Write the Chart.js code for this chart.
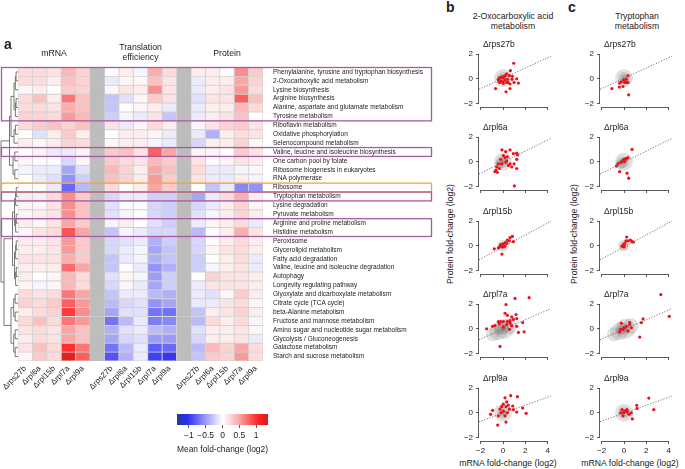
<!DOCTYPE html>
<html>
<head>
<meta charset="utf-8">
<script src="https://cdn.jsdelivr.net/npm/chart.js@4.4.1/dist/chart.umd.min.js"></script>
<style>
  body { margin: 0; background: #fff; width: 685px; height: 469px; position: relative; overflow: hidden;
         font-family: "Liberation Sans", Arial, sans-serif; color: #222; }
  canvas { position: absolute; }
  .t { position: absolute; white-space: nowrap; font-size: 8.7px; line-height: 10px; text-align: center; color: #222; }
  .lt { font-weight: bold; font-size: 14px; line-height: 16px; text-align: left; }
  .vt { transform: rotate(-90deg); transform-origin: 50% 50%; font-size: 8.7px; }
</style>
</head>
<body>
<canvas id="heat" width="440" height="400" style="left:0;top:0"></canvas>
<canvas id="cbar" width="140" height="69" style="left:150px;top:400px"></canvas>

<div class="t lt" style="left:4px;top:36px">a</div>
<div class="t lt" style="left:446px;top:-1px">b</div>
<div class="t lt" style="left:568px;top:-1px">c</div>
<div class="t" style="left:463px;top:11px;width:100px">2-Oxocarboxylic acid<br>metabolism</div>
<div class="t" style="left:587px;top:11px;width:100px">Tryptophan<br>metabolism</div>
<div class="t vt" style="left:390px;top:229px;width:120px">Protein fold-change (log2)</div>
<div class="t vt" style="left:514px;top:229px;width:120px">Protein fold-change (log2)</div>
<div class="t" style="left:448px;top:458px;width:120px">mRNA fold-change (log2)</div>
<div class="t" style="left:570px;top:458px;width:120px">mRNA fold-change (log2)</div>

<script>
// ---- data ----
const pathways = [
  'Phenylalanine, tyrosine and tryptophan biosynthesis',
  '2-Oxocarboxylic acid metabolism',
  'Lysine biosynthesis',
  'Arginine biosynthesis',
  'Alanine, aspartate and glutamate metabolism',
  'Tyrosine metabolism',
  'Riboflavin metabolism',
  'Oxidative phosphorylation',
  'Selenocompound metabolism',
  'Valine, leucine and isoleucine biosynthesis',
  'One carbon pool by folate',
  'Ribosome biogenesis in eukaryotes',
  'RNA polymerase',
  'Ribosome',
  'Tryptophan metabolism',
  'Lysine degradation',
  'Pyruvate metabolism',
  'Arginine and proline metabolism',
  'Histidine metabolism',
  'Peroxisome',
  'Glycerolipid metabolism',
  'Fatty acid degradation',
  'Valine, leucine and isoleucine degradation',
  'Autophagy',
  'Longevity regulating pathway',
  'Glyoxylate and dicarboxylate metabolism',
  'Citrate cycle (TCA cycle)',
  'beta-Alanine metabolism',
  'Fructose and mannose metabolism',
  'Amino sugar and nucleotide sugar metabolism',
  'Glycolysis / Gluconeogenesis',
  'Galactose metabolism',
  'Starch and sucrose metabolism'
];
const strains = ['\u0394rps27b', '\u0394rpl6a', '\u0394rpl15b', '\u0394rpl7a', '\u0394rpl9a'];
const groupTitles = [['mRNA'], ['Translation', 'efficiency'], ['Protein']];

// mean fold-change (log2), one row per pathway, one value per strain
const mrnaFC = [
  [0.2, 0.2, 0.15, 0.4, 0.25], [0.2, 0.2, 0.1, 0.35, 0.25], [0.05, 0.1, 0.0, 0.3, 0.25],
  [0.2, 0.35, 0.1, 0.7, 0.35], [0.2, 0.2, 0.15, 0.45, 0.35], [0.25, 0.25, 0.2, 0.55, 0.4],
  [0.2, 0.3, 0.35, 0.25, 0.35], [0.0, -0.15, 0.1, 0.3, 0.1], [0.1, 0.05, 0.1, 0.25, 0.2],
  [0.0, 0.05, -0.1, -0.1, 0.05], [0.05, 0.0, 0.0, -0.2, 0.05], [-0.05, -0.1, -0.1, -0.45, -0.15],
  [0.0, -0.1, -0.15, -0.55, -0.25], [0.0, 0.0, -0.1, -0.75, -0.35], [0.1, 0.1, 0.2, 0.6, 0.3],
  [0.05, 0.05, 0.15, 0.6, 0.35], [0.05, 0.1, 0.15, 0.6, 0.35], [0.1, 0.05, 0.15, 0.5, 0.3],
  [0.05, 0.15, 0.2, 0.85, 0.5], [0.1, 0.1, 0.15, 0.55, 0.3], [0.1, 0.1, 0.15, 0.55, 0.3],
  [0.15, 0.15, 0.15, 0.45, 0.3], [0.1, 0.1, 0.1, 0.75, 0.5], [0.1, 0.0, 0.05, 0.4, 0.2],
  [0.05, -0.05, 0.05, 0.4, 0.2], [0.2, 0.15, 0.2, 0.7, 0.5], [0.25, 0.2, 0.3, 0.8, 0.55],
  [0.1, 0.2, 0.25, 0.95, 0.6], [0.2, 0.35, 0.2, 0.7, 0.55], [0.15, 0.2, 0.15, 0.5, 0.35],
  [0.1, 0.2, 0.15, 0.5, 0.35], [0.15, 0.35, 0.2, 1.0, 0.7], [0.05, 0.3, 0.2, 1.25, 0.8]
];
const teFC = [
  [0.0, 0.1, -0.05, 0.45, 0.2], [-0.1, 0.05, 0.05, 0.35, 0.15], [0.05, 0.15, 0.1, 0.6, 0.15],
  [-0.3, -0.15, 0.05, 0.3, 0.15], [-0.3, 0.0, 0.05, 0.1, -0.1], [-0.25, -0.05, -0.1, 0.15, -0.3],
  [0.15, -0.1, 0.05, 0.2, 0.1], [0.0, 0.1, 0.1, 0.05, -0.1], [0.05, 0.1, 0.1, -0.05, -0.1],
  [0.3, 0.35, 0.15, 0.8, 0.5], [0.3, 0.2, 0.15, 0.4, 0.3], [0.4, 0.25, 0.1, 0.5, 0.35],
  [0.35, 0.25, 0.1, 0.55, 0.3], [0.2, 0.0, 0.1, 0.5, 0.3], [-0.2, -0.1, -0.1, -0.25, -0.25],
  [-0.15, 0.0, 0.0, -0.2, -0.25], [-0.15, -0.05, 0.0, -0.2, -0.25], [-0.05, 0.1, 0.0, -0.15, -0.25],
  [-0.3, -0.05, -0.1, -0.2, -0.2], [-0.2, -0.15, -0.1, -0.4, -0.25], [-0.2, -0.1, -0.05, -0.45, -0.3],
  [-0.3, -0.1, -0.05, -0.4, -0.3], [-0.3, 0.0, -0.1, -0.55, -0.4], [-0.15, 0.05, -0.05, -0.5, -0.25],
  [-0.2, 0.05, -0.1, -0.45, -0.25], [-0.3, -0.1, -0.1, -0.35, -0.4], [-0.35, -0.2, -0.15, -0.55, -0.45],
  [-0.45, -0.15, -0.15, -0.7, -0.7], [-0.7, -0.35, -0.1, -0.65, -0.6], [-0.4, -0.15, -0.1, -0.35, -0.4],
  [-0.45, -0.2, -0.15, -0.5, -0.5], [-0.7, -0.35, -0.1, -0.8, -0.75], [-0.85, -0.4, -0.1, -0.95, -1.0]
];
const protFC = [
  [0.1, 0.1, 0.0, 0.6, 0.3], [-0.1, 0.1, 0.1, 0.5, 0.25], [-0.1, 0.1, 0.15, 0.55, 0.2],
  [-0.15, 0.15, 0.15, 0.8, 0.35], [-0.1, 0.1, 0.1, 0.4, 0.2], [-0.1, 0.1, 0.15, 0.35, 0.0],
  [0.05, 0.15, 0.25, 0.3, 0.15], [-0.1, -0.4, 0.1, 0.2, 0.15], [-0.2, 0.1, 0.1, 0.25, 0.05],
  [0.05, 0.05, 0.0, 0.3, 0.15], [0.15, 0.0, 0.05, 0.15, 0.1], [0.2, -0.1, -0.1, -0.05, 0.05],
  [0.15, -0.1, -0.1, 0.1, -0.05], [0.0, -0.3, -0.1, -0.6, -0.55], [-0.45, -0.1, 0.2, 0.45, 0.1],
  [-0.2, -0.1, 0.1, 0.25, 0.05], [-0.15, -0.05, 0.1, 0.25, 0.1], [-0.1, 0.05, 0.1, 0.2, -0.1],
  [-0.35, 0.0, 0.1, 0.45, 0.15], [-0.2, 0.0, 0.1, 0.2, 0.1], [-0.2, 0.05, 0.15, 0.2, 0.1],
  [-0.25, 0.0, 0.1, 0.2, -0.1], [-0.25, -0.05, 0.1, 0.15, -0.1], [0.0, 0.25, 0.15, 0.15, 0.1],
  [-0.1, 0.15, 0.15, 0.15, 0.1], [-0.1, -0.15, 0.05, 0.3, 0.1], [-0.1, -0.1, 0.15, 0.2, 0.05],
  [-0.3, 0.1, 0.15, 0.25, 0.1], [-0.35, 0.2, 0.1, 0.2, -0.05], [-0.15, 0.1, 0.1, 0.15, 0.05],
  [-0.2, 0.1, 0.1, 0.15, -0.1], [-0.35, 0.4, 0.25, 0.5, 0.2], [-0.3, 0.3, 0.25, 0.55, 0.2]
];

// highlighted pathways [first row, last row, kind]
const highlights = [[0, 5, 'p'], [9, 9, 'p'], [13, 13, 'o'], [14, 14, 'p'], [17, 18, 'p']];

// colour bar
const cbarRange = [-1.35, 1.35];
const cbarTicks = [-1, -0.5, 0, 0.5, 1];

// scatter panels: [mRNA, protein] log2 fold-change of pathway genes
const oxoPoints = [
  [[0.96,1.26],[0.66,0.66],[0.33,0.4],[0.12,0.2],[-0.12,0.15],[-0.33,0.08],[-0.42,-0.05],[-0.2,-0.18],[0,-0.25],[0.18,-0.1],
   [0.42,-0.05],[0.57,0.25],[0.84,0.2],[1.23,0],[1.38,-0.35],[0.99,-0.3],[0.63,-0.43],[0.27,-1.06],[0.63,-0.8],[-0.66,-0.8],
   [-0.27,-0.3],[0.03,-0.38],[0.45,-0.3],[0.81,-0.05],[-0.03,0.08],[-0.36,-0.25],[0.18,0.25],[0.33,-0.3]],
  [[-0.09,0.96],[0.24,0.83],[0.63,0.96],[0.93,0.66],[1.23,0.7],[1.29,0.55],[1.23,0.2],[0.99,-0.18],[0.78,-0.43],[1.23,-0.55],
   [0.33,0.08],[0.18,0.33],[0.03,0.5],[-0.21,0.2],[-0.42,-0.18],[-0.57,-0.43],[-0.63,-0.68],[-0.51,-0.86],[-0.72,-0.8],[0.48,-0.3],
   [0.63,-0.18],[1.02,-1.97],[0.27,-0.05],[-0.12,-0.18],[0.39,0.4],[-0.33,-0.55]],
  [[0.84,0.76],[0.63,0.66],[0.39,0.45],[0.21,0.25],[0.03,0.15],[-0.12,0.05],[-0.27,-0.05],[-0.42,-0.18],[-0.78,-0.25],[-0.09,-0.68],
   [0.93,0.33],[0.57,0.4],[0.15,-0.05],[0.33,0.2],[-0.03,-0.1],[-0.21,0.1]],
  [[2.34,2.53],[1.08,2.47],[0.27,1.97],[0.18,1.26],[0.39,1.09],[0.78,0.96],[1.17,1.16],[1.23,0.83],[0.93,0.76],[0.63,0.66],
   [0.39,0.58],[0.03,0.58],[-0.21,0.58],[-0.42,0.58],[-0.72,0.25],[-0.93,0.2],[-1.47,0],[0.33,0.33],[0.63,0.45],[1.23,0.2],
   [1.77,0.5],[1.89,-0.25],[1.38,-0.3],[-0.27,-1.44],[0.57,-0.05],[0.03,0.15],[-0.33,0.4],[0.78,0.25]],
  [[0.69,1.39],[0.18,1.21],[1.29,1.31],[0.33,0.88],[0.03,0.7],[0.48,0.63],[0.27,0.5],[-0.12,0.5],[-0.27,0.3],[-0.93,0.2],
   [-1.11,-0.13],[0.87,0.55],[0.93,0.25],[1.23,0.05],[1.77,0.38],[2.07,-0.05],[0.27,-0.76],[-0.48,-1.0],[0.03,0.13],[0.39,0],
   [0.18,-0.25],[-0.18,0],[0.57,0.3],[-0.42,-0.25]]
];
const trpPoints = [
  [[0.36,0.25],[0.21,-0.05],[-0.03,-0.1],[-0.24,-0.25],[-0.39,-0.35],[-0.42,-0.68],[-0.09,-0.63],[0.21,-0.3],[0.36,-0.3],[0.06,-0.3],
   [-1.08,-0.8],[0.42,-1.31]],
  [[0.72,1.01],[0.36,0.33],[0.15,0.25],[0,0.2],[-0.15,0.08],[-0.3,-0.05],[-0.54,-0.18],[-0.69,-0.35],[-0.39,-0.81],[0.27,-0.93],
   [0.42,-1.34],[0.21,0.25],[0.06,0.03]],
  [[0.24,0.71],[0.36,0.4],[0.57,0.45],[0.72,0.33],[0.84,0.3],[0.06,0.2],[0.18,0.4],[0,0],[-0.18,-0.05],[0,-0.1],[-0.09,0.05]],
  [[3.3,2.78],[4.05,1.01],[1.71,0.81],[1.56,0.5],[1.41,-0.68],[0.51,0.5],[0.51,0.33],[0.66,0.08],[0.21,0.2],[0,0.08],
   [-0.24,0.45],[-0.3,-0.05],[-0.39,-0.25],[-0.09,-0.05],[0.36,-0.18]],
  [[2.22,1.19],[2.67,0.25],[1.14,0.61],[1.17,0.35],[0.75,-0.5],[0.27,0.25],[0.06,0.13],[-0.18,0.25],[-0.3,0],[-0.09,-0.25],
   [0.45,-0.13],[0.3,0.05],[-0.03,0],[0.66,0]]
];
// genome-wide density (centre x, centre y, spread) per strain
const clouds = [
  [[0, 0.05, 9], [0, 0.05, 6], [0, 0.05, 3.5], [0.05, 0.1, 2]],
  [[0, 0, 9], [-0.1, -0.05, 6], [-0.3, -0.2, 5], [0, 0, 3.5], [0, 0, 2]],
  [[0, 0, 6], [0, 0, 4], [0, 0, 2.5]],
  [[-0.9, -0.45, 7], [-0.4, -0.2, 9], [0.1, 0, 10], [0.6, 0.2, 8], [0, 0, 6], [-0.3, -0.1, 5], [0, 0, 3]],
  [[0, 0, 9], [0, 0, 6], [0, 0, 3.5], [0, 0, 2]]
];
// regression line: protein fold-change at mRNA = fitX[0] and fitX[1]
const fitX = [-2.15, 4.3];
const fitY = [[-0.86, 1.84], [-1.0, 1.9], [-1.15, 2.0], [-0.89, 1.64], [-0.73, 1.36]];
const xTicks = [-2, 0, 2, 4];
const yTicks = [-2, 0, 2];

// ---- helpers ----
const FONT = '"Liberation Sans", Arial, sans-serif';
Chart.defaults.font.family = FONT;
Chart.defaults.color = '#222';
Chart.defaults.animation = false;
Chart.defaults.plugins.legend.display = false;
Chart.defaults.plugins.tooltip.enabled = false;

const colorStops = [
  [-1.35, '#233c95'], [-1.05, '#2b2bf2'], [-0.5, '#9c9cf7'], [0, '#ffffff'],
  [0.5, '#f9a6a6'], [1.05, '#fd2424'], [1.35, '#d2201f']
];
function rgb(h) { return [1, 3, 5].map(i => parseInt(h.substr(i, 2), 16)); }
function fcColor(v) {
  if (v <= colorStops[0][0]) return colorStops[0][1];
  for (let i = 1; i < colorStops.length; i++) {
    if (v <= colorStops[i][0]) {
      const a = rgb(colorStops[i - 1][1]), b = rgb(colorStops[i][1]);
      const t = (v - colorStops[i - 1][0]) / (colorStops[i][0] - colorStops[i - 1][0]);
      return 'rgb(' + a.map((c, k) => Math.round(c + (b[k] - c) * t)).join(',') + ')';
    }
  }
  return colorStops[colorStops.length - 1][1];
}
const minus = v => (v < 0 ? '\u2212' + Math.abs(v) : '' + v);

// dendrogram (merge heights in px from the heatmap edge)
function chain(a, b, h) {
  if (a === b) return a;
  const m = Math.floor((a + b) / 2);
  return [h, chain(a, m, h * 0.55), chain(m + 1, b, h * 0.55)];
}
const tree = [16, [7.5, [6, chain(0, 5, 3), chain(6, 8, 3)], chain(9, 12, 4)],
                  [13, chain(13, 24, 4.5), chain(25, 32, 6)]];

// ---- 1. HEATMAP ----
const fcGroups = [mrnaFC, teFC, protFC];
const nCols = 17;
const heatSets = [];
for (let c = 0; c < nCols; c++) {
  const g = Math.floor(c / 6), s = c % 6, gap = s === 5;
  heatSets.push({
    data: pathways.map(() => [c, c + 1]),
    backgroundColor: pathways.map((_, r) => gap ? '#bdbdbd' : fcColor(fcGroups[g][r][s])),
    borderColor: gap ? '#bdbdbd' : '#d2d2d2',
    borderWidth: 0.8,
    borderSkipped: false,
    grouped: false,
    barPercentage: 1,
    categoryPercentage: 1
  });
}

const heatDecor = {
  id: 'heatDecor',
  afterDraw(chart) {
    const { ctx, chartArea: a, scales: { x, y } } = chart;
    const half = (a.bottom - a.top) / pathways.length / 2;
    ctx.save();
    // group titles
    ctx.fillStyle = '#222';
    ctx.textAlign = 'center';
    ctx.textBaseline = 'middle';
    ctx.font = '8.7px ' + FONT;
    groupTitles.forEach((lines, g) => {
      const cx = x.getPixelForValue(g * 6 + 2.5);
      if (lines.length === 1) ctx.fillText(lines[0], cx, 53.5);
      else { ctx.fillText(lines[0], cx, 47.5); ctx.fillText(lines[1], cx, 58); }
    });
    // dendrogram
    ctx.strokeStyle = '#555';
    ctx.lineWidth = 0.8;
    const draw = node => {
      if (typeof node === 'number') return { y: y.getPixelForValue(node), x: a.left };
      const l = draw(node[1]), r = draw(node[2]);
      const nx = a.left - 1 - node[0];
      ctx.beginPath();
      ctx.moveTo(l.x, l.y); ctx.lineTo(nx, l.y); ctx.lineTo(nx, r.y); ctx.lineTo(r.x, r.y);
      ctx.stroke();
      return { y: (l.y + r.y) / 2, x: nx };
    };
    draw(tree);
    // highlight boxes
    ctx.lineWidth = 1.3;
    highlights.forEach(([r0, r1, kind]) => {
      ctx.strokeStyle = kind === 'o' ? '#f4a23e' : '#a65aa2';
      const top = y.getPixelForValue(r0) - half, bot = y.getPixelForValue(r1) + half;
      ctx.strokeRect(1.5, top, 430, bot - top);
    });
    ctx.restore();
  }
};

new Chart(document.getElementById('heat'), {
  type: 'bar',
  data: { labels: pathways, datasets: heatSets },
  options: {
    responsive: false,
    indexAxis: 'y',
    layout: { autoPadding: false, padding: { left: 18, top: 67.5, right: 0, bottom: 0 } },
    scales: {
      y: {
        type: 'category',
        position: 'right',
        grid: { display: false, drawTicks: false },
        border: { display: false },
        ticks: { autoSkip: false, padding: 10, font: { size: 6.5 }, color: '#222' },
        afterFit: s => { s.width = 177; }
      },
      x: {
        type: 'linear',
        min: 0, max: nCols,
        grid: { display: false, drawTicks: false },
        border: { display: false },
        afterBuildTicks: s => {
          const t = [];
          for (let c = 0; c < nCols; c++) if (c % 6 !== 5) t.push({ value: c + 0.5 });
          s.ticks = t;
        },
        ticks: {
          autoSkip: false, minRotation: 45, maxRotation: 45, padding: 3,
          font: { size: 8 }, color: '#222',
          callback: v => strains[Math.floor(v) % 6]
        },
        afterFit: s => { s.height = 39; }
      }
    }
  },
  plugins: [heatDecor]
});

// ---- 2. COLOUR BAR ----
new Chart(document.getElementById('cbar'), {
  type: 'bar',
  data: {
    labels: [''],
    datasets: [{
      data: [cbarRange],
      barPercentage: 1, categoryPercentage: 1,
      borderWidth: 0,
      backgroundColor: ctx => {
        const a = ctx.chart.chartArea;
        if (!a) return '#fff';
        const gr = ctx.chart.ctx.createLinearGradient(a.left, 0, a.right, 0);
        colorStops.forEach(([v, c]) => gr.addColorStop((v - cbarRange[0]) / (cbarRange[1] - cbarRange[0]), c));
        return gr;
      }
    }]
  },
  options: {
    responsive: false,
    indexAxis: 'y',
    layout: { autoPadding: false, padding: { left: 27, right: 22, top: 14, bottom: 14 } },
    scales: {
      y: { display: false },
      x: {
        type: 'linear', min: cbarRange[0], max: cbarRange[1],
        grid: { drawOnChartArea: false, drawTicks: true, tickLength: 3, color: '#333', lineWidth: 0.8 },
        border: { display: false },
        afterBuildTicks: s => { s.ticks = cbarTicks.map(v => ({ value: v })); },
        ticks: { padding: 3, font: { size: 8.5 }, color: '#222', callback: v => minus(v) },
        title: { display: true, text: 'Mean fold-change (log2)', font: { size: 8.7 }, color: '#222', padding: { top: 3, bottom: 0 } },
        afterFit: s => { s.height = 30; }
      }
    }
  }
});

// ---- 3. SCATTER PANELS ----
const panelDecor = {
  id: 'panelDecor',
  afterDraw(chart, args, opts) {
    const { ctx, chartArea: a, scales: { x, y } } = chart;
    ctx.save();
    ctx.strokeStyle = '#333';
    ctx.lineWidth = 0.8;
    ctx.beginPath();
    ctx.moveTo(x.getPixelForValue(xTicks[0]), a.bottom + 0.5);
    ctx.lineTo(x.getPixelForValue(xTicks[xTicks.length - 1]), a.bottom + 0.5);
    ctx.moveTo(a.left - 0.5, y.getPixelForValue(yTicks[0]));
    ctx.lineTo(a.left - 0.5, y.getPixelForValue(yTicks[yTicks.length - 1]));
    ctx.stroke();
    ctx.fillStyle = '#222';
    ctx.font = '8.5px ' + FONT;
    ctx.textBaseline = 'middle';
    ctx.fillText(opts.label, a.left + 4, a.top + 6);
    ctx.restore();
  }
};

function makePanel(col, row, points) {
  const L = col === 0 ? 479 : 600;
  const T = Math.round(33 + 83.4 * row);
  const last = row === strains.length - 1;
  const xh = last ? 22 : 8;
  const cv = document.createElement('canvas');
  cv.width = 112;
  cv.height = Math.ceil(2 + 73.3 + xh);
  cv.style.left = (L - 30) + 'px';
  cv.style.top = (T - 2) + 'px';
  document.body.appendChild(cv);

  new Chart(cv, {
    type: 'scatter',
    data: {
      datasets: [
        {
          data: points[row].map(p => ({ x: p[0], y: p[1] })),
          backgroundColor: '#e8141c', pointRadius: 1.6, pointBorderWidth: 0, order: 0
        },
        {
          type: 'line',
          data: fitX.map((v, k) => ({ x: v, y: fitY[row][k] })),
          borderColor: '#666', borderWidth: 0.9, borderDash: [1.2, 1.6], pointRadius: 0, order: 1
        },
        {
          data: clouds[row].map(p => ({ x: p[0], y: p[1] })),
          pointRadius: clouds[row].map(p => p[2]),
          backgroundColor: 'rgba(70,70,70,0.16)', pointBorderWidth: 0, order: 2
        }
      ]
    },
    options: {
      responsive: false,
      layout: { autoPadding: false, padding: { left: 0, top: 2, right: 10, bottom: 0 } },
      scales: {
        x: {
          type: 'linear', min: fitX[0], max: fitX[1],
          grid: { drawOnChartArea: false, drawTicks: true, tickLength: 3, color: '#333', lineWidth: 0.8 },
          border: { display: false },
          afterBuildTicks: s => { s.ticks = xTicks.map(v => ({ value: v })); },
          ticks: { padding: 2, font: { size: 8 }, color: last ? '#222' : 'rgba(0,0,0,0)', callback: v => minus(v) },
          afterFit: s => { s.height = xh; }
        },
        y: {
          type: 'linear', min: -2.3, max: 3.25,
          grid: { drawOnChartArea: false, drawTicks: true, tickLength: 3, color: '#333', lineWidth: 0.8 },
          border: { display: false },
          afterBuildTicks: s => { s.ticks = yTicks.map(v => ({ value: v })); },
          ticks: { padding: 3, font: { size: 8 }, color: '#222', callback: v => minus(v) },
          afterFit: s => { s.width = 30; }
        }
      },
      plugins: { panelDecor: { label: strains[row] } }
    },
    plugins: [panelDecor]
  });
}

strains.forEach((s, i) => {
  makePanel(0, i, oxoPoints);
  makePanel(1, i, trpPoints);
});
</script>
</body>
</html>
